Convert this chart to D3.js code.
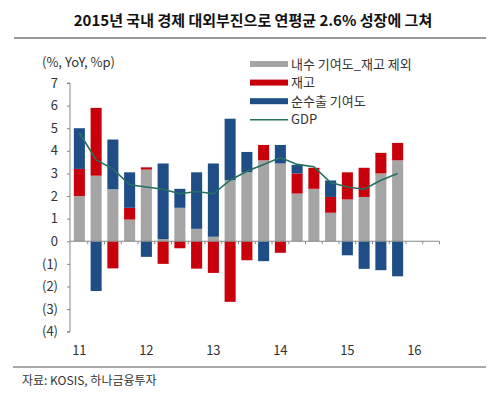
<!DOCTYPE html>
<html><head><meta charset="utf-8">
<script src="https://cdn.jsdelivr.net/npm/d3@7"></script>
<style>body{margin:0;background:#fff}svg{display:block}text{font-family:"Noto Sans CJK KR","Noto Sans",sans-serif;fill:#333}</style>
</head><body>
<script>
const quarters = ["11Q1","11Q2","11Q3","11Q4","12Q1","12Q2","12Q3","12Q4","13Q1","13Q2","13Q3","13Q4","14Q1","14Q2","14Q3","14Q4","15Q1","15Q2","15Q3","15Q4","16Q1","16Q2"];
const yearLabels = ["11","12","13","14","15","16"];
const domestic = [2.0,2.9,2.3,0.96,3.17,0.1,1.48,0.55,0.2,2.7,3.05,3.58,3.44,2.11,2.32,1.26,1.85,1.96,3.0,3.58];
const inventory = [1.2,3.0,-1.2,0.52,0.1,-1.0,-0.31,-1.21,-1.4,-2.68,-0.84,0.68,-0.51,0.89,0.93,0.7,1.2,1.29,0.91,0.77];
const netExports = [1.8,-2.2,2.2,1.57,-0.69,3.34,0.84,2.5,3.24,2.72,0.9,-0.88,0.82,0.38,0,0.73,-0.62,-1.22,-1.28,-1.55];
const gdp = [4.8,3.6,3.2,2.5,2.4,2.3,2.1,2.2,2.1,2.7,3.1,3.4,3.7,3.4,3.3,2.6,2.4,2.3,2.7,3.0];
const yTicks = [7,6,5,4,3,2,1,0,-1,-2,-3,-4];
const seriesNames = ["내수 기여도_재고 제외","재고","순수출 기여도","GDP"];
const colors = ["#a5a5a5","#c8000b","#1f4e86","#25705f"];

const W=500,H=393;
const svg=d3.select("body").append("svg").attr("width",W).attr("height",H);

// title
svg.append("text").attr("x",253).attr("y",26).attr("text-anchor","middle")
  .style("font-size","15px").style("font-weight","700").style("fill","#111")
  .text("2015년 국내 경제 대외부진으로 연평균 2.6% 성장에 그쳐");
svg.append("line").attr("x1",14).attr("x2",486).attr("y1",38).attr("y2",38)
  .attr("stroke","#9a9a9a").attr("stroke-width",2);

const x=d3.scaleBand().domain(quarters).range([71,439.5]).paddingInner(0.34).paddingOuter(0.17);
const y=d3.scaleLinear().domain([-4,7]).range([331.7,83]);

// data table
const rows=domestic.map((d,i)=>({q:quarters[i],dom:d,inv:inventory[i],net:netExports[i]}));
const stack=d3.stack().keys(["dom","inv","net"]).offset(d3.stackOffsetDiverging)(rows);

stack.forEach((s,k)=>{
  svg.append("g").selectAll("rect").data(s).join("rect")
    .attr("x",d=>x(d.data.q))
    .attr("width",x.bandwidth())
    .attr("y",d=>y(Math.max(d[0],d[1])))
    .attr("height",d=>Math.abs(y(d[0])-y(d[1])))
    .attr("fill",colors[k]);
});

// y axis
const yAxis=d3.axisLeft(y).tickValues(yTicks).tickSize(3).tickPadding(9)
  .tickFormat(v=>v<0?`(${-v})`:`${v}`);
const gy=svg.append("g").attr("transform","translate(70,0)").call(yAxis);
gy.select(".domain").attr("stroke","#888").attr("d",`M-3,${y(7)}H0V${y(-4)}H-3`);
gy.selectAll(".tick line").attr("stroke","#888");
gy.selectAll(".tick text").style("font-size","13px").style("fill","#333").attr("font-family",null);

// x axis line with ticks at category boundaries
svg.append("line").attr("x1",70).attr("x2",439.5).attr("y1",y(0)).attr("y2",y(0)).attr("stroke","#888").attr("stroke-width",1);
const bounds=quarters.map(q=>x(q)-x.step()*x.paddingInner()/2).concat([439.5]);
svg.append("g").selectAll("line").data(bounds.slice(1)).join("line")
  .attr("x1",d=>d).attr("x2",d=>d).attr("y1",y(0)).attr("y2",y(0)+3).attr("stroke","#888");
svg.append("g").selectAll("text").data(yearLabels).join("text")
  .attr("x",(d,i)=>x(quarters[i*4])+x.bandwidth()/2)
  .attr("y",355).attr("text-anchor","middle").style("font-size","13px").text(d=>d);

// GDP line
const line=d3.line().x((d,i)=>x(quarters[i])+x.bandwidth()/2).y(d=>y(d));
svg.append("path").datum(gdp).attr("d",line).attr("fill","none")
  .attr("stroke",colors[3]).attr("stroke-width",1.6);

// unit label
svg.append("text").attr("x",42).attr("y",67).style("font-size","13px").text("(%, YoY, %p)");

// legend
const lg=svg.append("g");
seriesNames.forEach((n,i)=>{
  const cy=64+i*18.6;
  if(i<3){
    lg.append("rect").attr("x",250).attr("y",cy-3).attr("width",38).attr("height",6).attr("fill",colors[i]);
  } else {
    lg.append("line").attr("x1",250).attr("x2",288).attr("y1",cy).attr("y2",cy).attr("stroke",colors[i]).attr("stroke-width",1.6);
  }
  lg.append("text").attr("x",291).attr("y",cy+4.5).style("font-size","13px").text(n);
});

// bottom line & source
svg.append("line").attr("x1",13).attr("x2",486).attr("y1",367).attr("y2",367).attr("stroke","#555").attr("stroke-width",1);
svg.append("text").attr("x",22).attr("y",385).style("font-size","12px").text("자료: KOSIS, 하나금융투자");
</script>
</body></html>
